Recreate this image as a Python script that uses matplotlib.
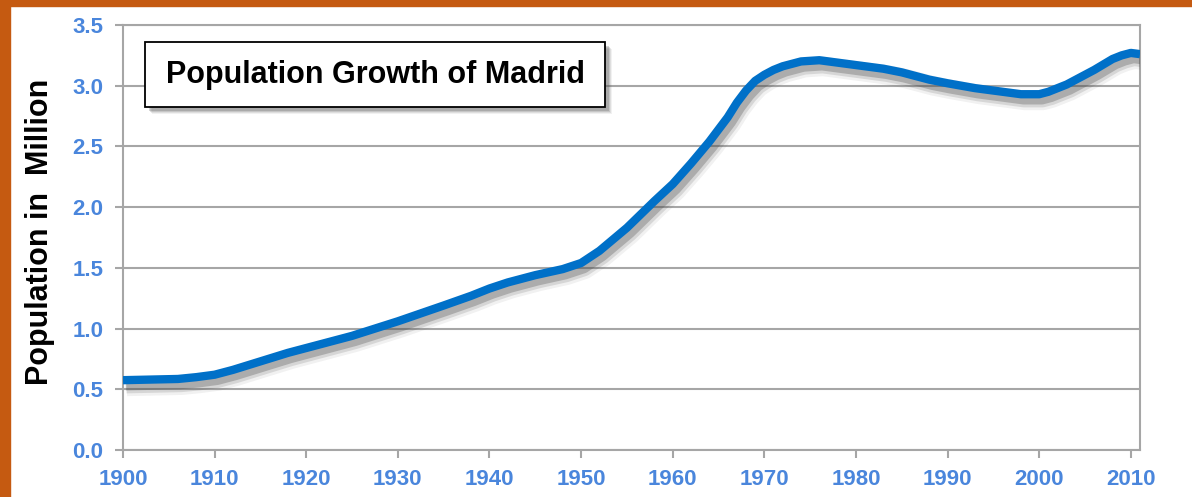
import matplotlib.pyplot as plt
import matplotlib.patheffects as pe
from matplotlib.patches import Rectangle

# population of Madrid (million)
years = [1900, 1903, 1906, 1908, 1910, 1912, 1915, 1918, 1920, 1925, 1930,
         1935, 1938, 1940, 1942, 1945, 1948, 1950, 1952, 1955, 1958, 1960,
         1962, 1964, 1966, 1967, 1968, 1969, 1970, 1971, 1972, 1974, 1976,
         1978, 1980, 1983, 1985, 1988, 1990, 1993, 1995, 1998, 2000, 2001,
         2003, 2006, 2008, 2009, 2010, 2011]
pop = [0.575, 0.58, 0.585, 0.60, 0.62, 0.66, 0.73, 0.80, 0.84, 0.94, 1.06,
       1.19, 1.27, 1.33, 1.38, 1.44, 1.49, 1.54, 1.64, 1.83, 2.05, 2.19,
       2.36, 2.54, 2.74, 2.86, 2.96, 3.04, 3.09, 3.13, 3.16, 3.20, 3.21,
       3.19, 3.17, 3.14, 3.11, 3.05, 3.02, 2.98, 2.96, 2.93, 2.93, 2.95,
       3.01, 3.13, 3.22, 3.25, 3.27, 3.26]
xticks = list(range(1900, 2011, 10))
yticks = [0.0, 0.5, 1.0, 1.5, 2.0, 2.5, 3.0, 3.5]

title = 'Population Growth of Madrid'
ylabel = 'Population in  Million'

W, H = 1192, 497
fig = plt.figure(figsize=(W / 100, H / 100), dpi=100)
fig.patch.set_facecolor('white')

orange = '#C55A11'
fig.add_artist(Rectangle((0, 0), 10 / W, 1, transform=fig.transFigure,
                         color=orange, zorder=0))
fig.add_artist(Rectangle((0, 1 - 6 / H), 1, 6 / H, transform=fig.transFigure,
                         color=orange, zorder=0))

ax = fig.add_axes([123 / W, 1 - 450 / H, (1140 - 123) / W, (450 - 25) / H])
ax.set_xlim(1900, 2011)
ax.set_ylim(0, 3.5)

grey = '#A6A6A6'
ax.yaxis.grid(True, color=grey, linewidth=1.5)
ax.set_axisbelow(True)
for s in ax.spines.values():
    s.set_color(grey)
    s.set_linewidth(1.5)

shadow = [
    pe.SimpleLineShadow(offset=(2.8, -4.5), shadow_color='0.3', alpha=0.08, linewidth=14),
    pe.SimpleLineShadow(offset=(2.4, -4), shadow_color='0.3', alpha=0.16, linewidth=11),
    pe.SimpleLineShadow(offset=(2, -3.4), shadow_color='0.3', alpha=0.3, linewidth=8),
    pe.Normal(),
]
ax.plot(years, pop, color='#0070C8', linewidth=6, solid_capstyle='butt',
        solid_joinstyle='round', path_effects=shadow, zorder=3)

tick_col = '#4A86DC'
ax.set_xticks(xticks)
ax.set_yticks(yticks)
ax.set_yticklabels(['%.1f' % v for v in yticks])
ax.tick_params(axis='both', colors=grey, labelcolor=tick_col, labelsize=16,
               length=6, width=1.5)
ax.tick_params(axis='x', pad=8)
ax.tick_params(axis='y', pad=8)
for lab in ax.get_xticklabels() + ax.get_yticklabels():
    lab.set_family('Liberation Sans')
    lab.set_fontweight('bold')

fig.text(40 / W, 1 - 232 / H, ylabel, rotation=90, ha='center', va='center',
         fontsize=22, fontweight='bold', family='Liberation Sans')

# title box with soft shadow
bx0, by0, bx1, by1 = 145, 42, 605, 107
for d, a in [(7, 0.08), (6, 0.12), (5, 0.18), (4, 0.25)]:
    fig.add_artist(Rectangle(((bx0 + d) / W, 1 - (by1 + d) / H), (bx1 - bx0) / W,
                             (by1 - by0) / H, transform=fig.transFigure,
                             facecolor='0.35', edgecolor='none', alpha=a, zorder=4))
fig.add_artist(Rectangle((bx0 / W, 1 - by1 / H), (bx1 - bx0) / W, (by1 - by0) / H,
                         transform=fig.transFigure, facecolor='white',
                         edgecolor='black', linewidth=1.3, zorder=5))
fig.text((bx0 + bx1) / 2 / W, 1 - 75 / H, title, ha='center', va='center',
         fontsize=22, fontweight='bold', family='Liberation Sans', zorder=6)

plt.savefig('out.png', dpi=100)
